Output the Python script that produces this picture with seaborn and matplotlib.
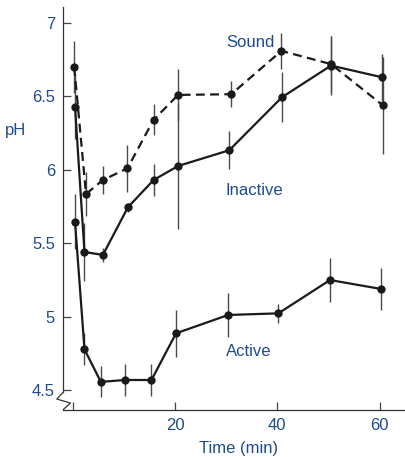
import numpy as np
import pandas as pd
import matplotlib
matplotlib.use("Agg")
import matplotlib.pyplot as plt
import seaborn as sns

# values
sound_t = [0.3, 2.6, 5.9, 10.7, 15.8, 20.6, 31.0, 40.8, 50.5, 60.6]
sound_ph = [6.70, 5.835, 5.93, 6.01, 6.34, 6.51, 6.515, 6.81, 6.72, 6.44]
sound_err = [0.18, 0.15, 0.095, 0.16, 0.105, 0.175, 0.09, 0.12, 0.19, 0.33]

inactive_t = [0.45, 2.3, 5.9, 10.8, 15.8, 20.6, 30.6, 40.9, 50.5, 60.5]
inactive_ph = [6.43, 5.44, 5.42, 5.745, 5.93, 6.026, 6.133, 6.494, 6.71, 6.63]
inactive_err = [0.22, 0.2, 0.05, 0.03, 0.11, 0.43, 0.13, 0.17, 0.2, 0.16]

active_t = [0.45, 2.3, 5.5, 10.2, 15.4, 20.2, 30.4, 40.2, 50.3, 60.3]
active_ph = [5.647, 4.777, 4.555, 4.568, 4.568, 4.886, 5.011, 5.022, 5.249, 5.188]
active_err = [0.19, 0.11, 0.105, 0.11, 0.11, 0.16, 0.15, 0.065, 0.15, 0.145]

yticks = [4.5, 5, 5.5, 6, 6.5, 7]
ytick_labels = ["4.5", "5", "5.5", "6", "6.5", "7"]
xticks = [0, 20, 40, 60]
xtick_labels = ["", "20", "40", "60"]

sns.set_style("ticks")
plt.rcParams["font.family"] = ["Liberation Sans", "DejaVu Sans"]

blue = "#1d4b8f"
ink = "#1a1a1a"

fig = plt.figure(figsize=(4.05, 4.57), dpi=100)
W, H = 405, 457
ax = fig.add_axes([63.3 / W, (H - 409.5) / H, 341.7 / W, 402.5 / H])

series = [
    ("Sound", sound_t, sound_ph, sound_err, (0, (4, 2.4))),
    ("Inactive", inactive_t, inactive_ph, inactive_err, "-"),
    ("Active", active_t, active_ph, active_err, "-"),
]

for name, t, ph, err, ls in series:
    t = np.array(t)
    ph = np.array(ph)
    err = np.array(err)
    ax.vlines(t, ph - err, ph + err, color="#4a4a4a", lw=1.0, zorder=1)
    df = pd.DataFrame({"time": t, "ph": ph})
    sns.lineplot(data=df, x="time", y="ph", ax=ax, sort=False, estimator=None,
                 color=ink, lw=1.6, linestyle=ls, marker="o", markersize=6,
                 markeredgewidth=0, zorder=3)

ax.set_xlim(-1.84, 64.96)
ax.set_ylim(4.367, 7.109)

ax.set_xticks(xticks)
ax.set_xticklabels(xtick_labels)
ax.set_yticks(yticks)
ax.set_yticklabels(ytick_labels)
ax.tick_params(direction="in", length=6, width=0.9, color="#444444",
               labelsize=12, labelcolor=blue, pad=6)

for s in ["top", "right"]:
    ax.spines[s].set_visible(False)
for s in ["left", "bottom"]:
    ax.spines[s].set_linewidth(0.9)
    ax.spines[s].set_color("#333333")
ax.spines["left"].set_bounds(4.486, 7.109)

# axis break mark
zx = [0, -0.019, 0.021, 0]
zy = [0.043, 0.026, 0.016, 0]
ax.plot(zx, zy, transform=ax.transAxes, color="#333333", lw=0.9, clip_on=False)

ax.set_xlabel("Time (min)", fontsize=12, color=blue, va="center")
ax.set_ylabel("pH", fontsize=12, color=blue, rotation=0, ha="center", va="center")
ax.xaxis.set_label_coords(0.514, -0.096)
ax.yaxis.set_label_coords(-0.14, 0.692)

ax.text(34.7, 6.87, "Sound", fontsize=12, color=blue, ha="center", va="center")
ax.text(35.5, 5.856, "Inactive", fontsize=12, color=blue, ha="center", va="center")
ax.text(34.4, 4.759, "Active", fontsize=12, color=blue, ha="center", va="center")

fig.savefig("out.png", dpi=100)
